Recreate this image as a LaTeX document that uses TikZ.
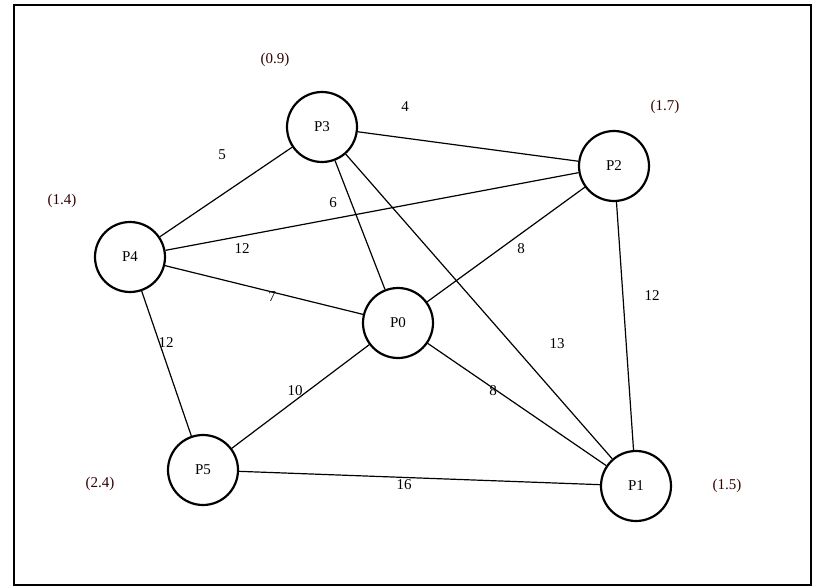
\documentclass[tikz,border=0pt]{standalone}
\usepackage{fontspec}
\setmainfont{Liberation Serif}
\begin{document}
\begin{tikzpicture}[x=1pt,y=-1pt,
  pn/.style={circle,draw,line width=2.2pt,minimum size=70pt,inner sep=0pt,font=\fontsize{15}{17}\selectfont,fill=white},
  el/.style={font=\fontsize{15}{17}\selectfont,inner sep=1pt},
  cl/.style={font=\fontsize{15}{17}\selectfont,text=black!80!red},
  ed/.style={line width=1.2pt}]
\useasboundingbox (0,0) rectangle (821,588);
\draw[line width=2pt] (14,5) rectangle (811,585);
\node[pn] (P3) at (322,127) {P3};
\node[pn] (P2) at (614,166) {P2};
\node[pn] (P4) at (130,257) {P4};
\node[pn] (P0) at (398,323) {P0};
\node[pn] (P5) at (203,470) {P5};
\node[pn] (P1) at (636,486) {P1};
\begin{scope}[on background layer/.try]
\end{scope}
\draw[ed] (P3)--(P2); \draw[ed] (P3)--(P4); \draw[ed] (P3)--(P0); \draw[ed] (P3)--(P1);
\draw[ed] (P4)--(P2); \draw[ed] (P0)--(P2); \draw[ed] (P2)--(P1);
\draw[ed] (P4)--(P0); \draw[ed] (P4)--(P5); \draw[ed] (P5)--(P0);
\draw[ed] (P0)--(P1); \draw[ed] (P5)--(P1);
\node[el] (l1) at (405,107) {4};
\node[el] (l2) at (222,155) {5};
\node[el] (l3) at (333,203) {6};
\node[el] (l4) at (242,249) {12};
\node[el] (l5) at (521,249) {8};
\node[el] (l6) at (272,297) {7};
\node[el] (l7) at (652,296) {12};
\node[el] (l8) at (166,343) {12};
\node[el] (l9) at (557,344) {13};
\node[el] (l10) at (295,391) {10};
\node[el] (l11) at (493,391) {8};
\node[el] (l12) at (404,485) {16};
\node[cl] (c3) at (275,60) {(0.9)};
\node[cl] (c2) at (665,107) {(1.7)};
\node[cl] (c4) at (62,201) {(1.4)};
\node[cl] (c5) at (100,484) {(2.4)};
\node[cl] (c1) at (727,486) {(1.5)};
\end{tikzpicture}
\end{document}
